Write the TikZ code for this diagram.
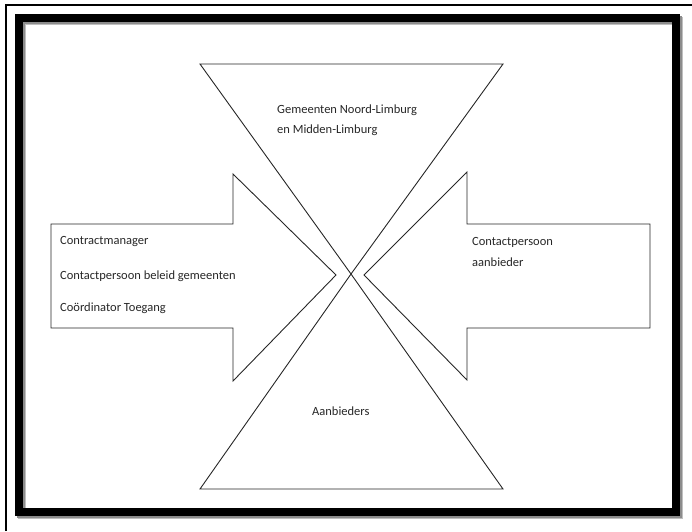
\documentclass[tikz,border=0pt]{standalone}
\usepackage{fontspec}
\setmainfont{Carlito}
\begin{document}
\begin{tikzpicture}[x=1pt, y=-1pt,
    vorm/.style={draw=black!85, line width=0.9pt, line join=miter},
    tekst/.style={anchor=west, inner sep=0pt, font=\fontsize{12.5}{15}\selectfont, text=black!85}]
    \useasboundingbox (0,0) rectangle (692,531);
    % buitenrand en kader
    \draw[line width=1.4pt] (6,531) -- (6,5) -- (692,5);
    \draw[line width=8pt, draw=black!25] (22,21) rectangle (679,515);
    \draw[line width=8pt, draw=black!45] (21,20) rectangle (677.5,513.5);
    \draw[line width=8pt] (19,18) rectangle (675.5,511.5);
    % driehoeken
    \coordinate (kruis) at (351,274);
    \draw[vorm] (200,64) -- (503,64) -- (kruis) -- cycle;
    \draw[vorm] (200,489) -- (503,489) -- (kruis) -- cycle;
    % pijlen
    \draw[vorm] (51,224) -- (233,224) -- (233,174) -- (336,275) -- (233,381) -- (233,328) -- (51,328) -- cycle;
    \draw[vorm] (650,224) -- (467,224) -- (467,172) -- (364,275) -- (467,380) -- (467,328) -- (650,328) -- cycle;
    % teksten
    \node[tekst] (gemeenten) at (277,110) {Gemeenten Noord-Limburg};
    \node[tekst] (midden) at (277,130) {en Midden-Limburg};
    \node[tekst] (manager) at (60,242) {Contractmanager};
    \node[tekst] (beleid) at (60,276) {Contactpersoon beleid gemeenten};
    \node[tekst] (toegang) at (60,308) {Coördinator Toegang};
    \node[tekst] (contact) at (472,242) {Contactpersoon};
    \node[tekst] (aanbieder) at (472,262) {aanbieder};
    \node[tekst] (aanbieders) at (312,411) {Aanbieders};
\end{tikzpicture}
\end{document}
